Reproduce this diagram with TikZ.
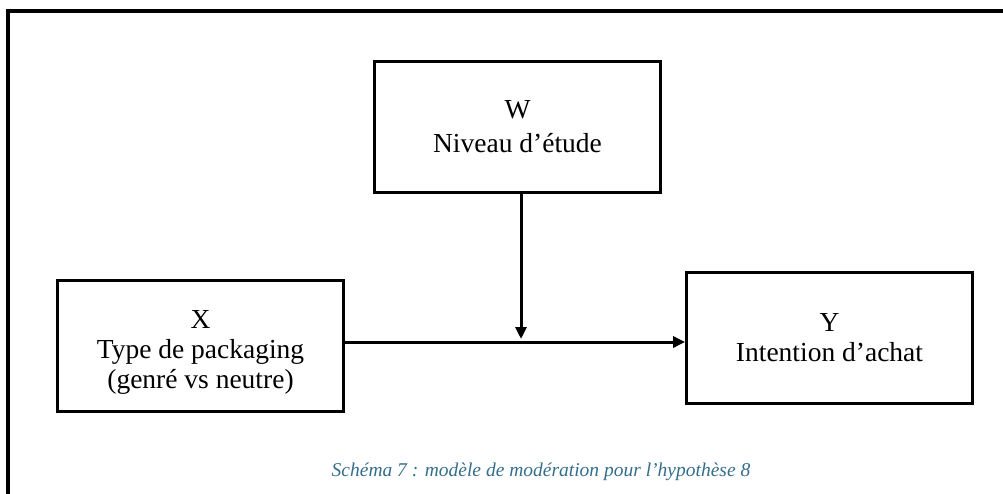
\documentclass[tikz,border=0pt]{standalone}
\usepackage{fontspec}
\setmainfont{Liberation Serif}
\usepackage{xcolor}
\usetikzlibrary{arrows.meta}

\definecolor{captionblue}{RGB}{52,110,140}

\tikzset{
  var/.style={draw, line width=2.8pt, minimum width=286pt, minimum height=131pt,
    inner sep=0pt, align=center, font=\fontsize{27.5}{30}\selectfont},
  effect/.style={line width=3pt, -{Triangle[length=12pt,width=11pt]}},
  legend/.style={font=\fontsize{19.5}{22}\selectfont\itshape, text=captionblue}
}

\begin{document}
\begin{tikzpicture}[x=1pt,y=-1pt]
\useasboundingbox (0,0) rectangle (1003,493);
\draw[line width=3.2pt] (8,500) -- (8,11) -- (1010,11);

\node[var, font=\fontsize{27.5}{34}\selectfont] (W) at (517.5,127) {W\\Niveau d’étude};
\node[var, text height=87pt, text depth=3pt] (X) at (200.5,346) {X\\Type de packaging\\(genré vs neutre)};
\node[var] (Y) at (829.5,338) {Y\\Intention d’achat};

\draw[effect] ([yshift=4pt]X.east) -- ([yshift=-4pt]Y.west);
\coordinate (moderation) at (521,339);
\draw[effect] (W.south -| moderation) -- (moderation);

\node[legend] (caption) at (541,472) {Schéma 7 : modèle de modération pour l'hypothèse 8};
\end{tikzpicture}
\end{document}
